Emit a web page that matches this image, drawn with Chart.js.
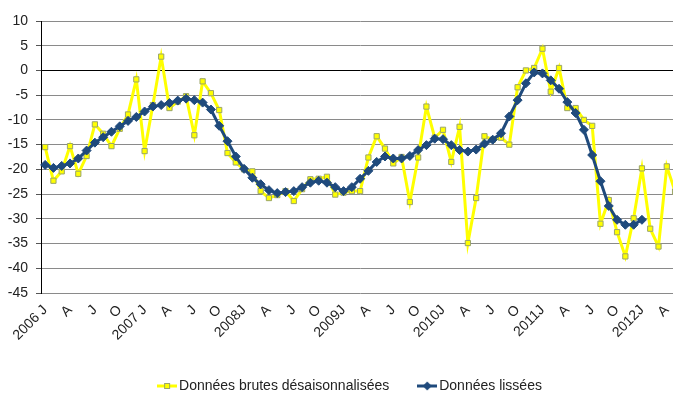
<!DOCTYPE html>
<html>
<head>
<meta charset="utf-8">
<script src="https://cdn.jsdelivr.net/npm/chart.js@4/dist/chart.umd.min.js"></script>
<style>
  html, body { margin: 0; padding: 0; background: #fff; overflow: hidden; }
  #wrap { width: 688px; height: 400px; }
</style>
</head>
<body>
<div id="wrap"><canvas id="chart"></canvas></div>
<script>
// one label every quarter, starting January 2006
const quarterLabels = [
  "2006 J", "A", "J", "O",
  "2007 J", "A", "J", "O",
  "2008J", "A", "J", "O",
  "2009J", "A", "J", "O",
  "2010J", "A", "J", "O",
  "2011J", "A", "J", "O",
  "2012J", "A"
];

// monthly categories, 2006-01 .. 2012-05
const months = [];
for (let y = 2006; y <= 2012; y++) {
  for (let m = 1; m <= 12; m++) {
    if (y === 2012 && m > 5) break;
    months.push(y + "-" + String(m).padStart(2, "0"));
  }
}

const rawValues = [
  -15.5, -22.3, -20.4, -15.3, -20.9, -17.3, -10.9, -12.8, -15.3, -11.8, -8.9, -1.8,
  -16.3, -7.0, 2.8, -7.6, -6.3, -5.2, -13.1, -2.2, -4.6, -8.0, -16.7, -18.6,
  -20.0, -20.4, -24.4, -25.8, -25.2, -24.4, -26.4, -24.0, -22.0, -21.9, -21.5, -25.1,
  -24.7, -24.4, -24.4, -17.6, -13.3, -15.8, -18.8, -17.5, -26.6, -17.6, -7.3, -13.6,
  -12.0, -18.5, -11.4, -34.9, -25.8, -13.3, -14.0, -13.6, -15.0, -3.4, 0.0, 0.5,
  4.4, -4.3, 0.5, -7.6, -7.6, -10.0, -11.2, -31.0, -26.2, -32.7, -37.6, -29.9,
  -19.8, -32.0, -35.6, -19.4, -24.5
];

const smoothValues = [
  -19.1, -19.7, -19.3, -18.8, -17.8, -16.2, -14.6, -13.5, -12.4, -11.3, -10.2, -9.4,
  -8.3, -7.3, -7.0, -6.6, -6.1, -5.7, -6.0, -6.5, -7.9, -11.2, -14.3, -17.4,
  -19.9, -21.7, -23.0, -24.2, -24.8, -24.6, -24.4, -23.6, -22.7, -22.3, -22.7, -23.6,
  -24.4, -23.6, -21.9, -20.3, -18.5, -17.4, -17.8, -17.8, -17.3, -16.1, -15.1, -13.8,
  -13.9, -15.1, -16.1, -16.4, -16.0, -14.8, -14.0, -12.7, -9.3, -6.0, -2.6, -0.4,
  -0.6, -2.0, -3.7, -6.4, -8.6, -12.0, -17.1, -22.4, -27.4, -30.2, -31.2, -31.2,
  -30.2
];

const YELLOW = "#ffff00";
const BLUE = "#1f4a7c";

// little line + marker picture for the legend
function legendIcon(color, style, fill, border) {
  const c = document.createElement("canvas");
  c.width = 20;
  c.height = 10;
  const g = c.getContext("2d");
  g.strokeStyle = color;
  g.lineWidth = 3;
  g.beginPath();
  g.moveTo(0, 5);
  g.lineTo(20, 5);
  g.stroke();
  g.fillStyle = fill;
  g.strokeStyle = border;
  g.lineWidth = 1;
  if (style === "rect") {
    g.fillRect(7.5, 2.5, 5, 5);
    g.strokeRect(7.5, 2.5, 5, 5);
  } else {
    g.beginPath();
    g.moveTo(10, 0.5);
    g.lineTo(14.5, 5);
    g.lineTo(10, 9.5);
    g.lineTo(5.5, 5);
    g.closePath();
    g.fill();
  }
  return c;
}

const iconRaw = legendIcon(YELLOW, "rect", YELLOW, "#9aa56a");
const iconSmooth = legendIcon(BLUE, "diamond", BLUE, BLUE);

// nudge the legend a bit to the right, like the original
const legendShift = {
  id: "legendShift",
  afterLayout(chart) {
    if (!chart.legend) return;
    chart.legend.left += 8;
    chart.legend.right += 8;
  },
};

const chart = new Chart(document.getElementById("chart"), {
  type: "line",
  plugins: [legendShift],
  data: {
    labels: months,
    datasets: [
      {
        label: "Données brutes désaisonnalisées",
        data: rawValues,
        borderColor: YELLOW,
        borderWidth: 3,
        pointStyle: "rect",
        pointRadius: 3.7,
        pointBackgroundColor: YELLOW,
        pointBorderColor: "#9aa56a",
        pointBorderWidth: 1,
        tension: 0,
        order: 1,
      },
      {
        label: "Données lissées",
        data: smoothValues,
        borderColor: BLUE,
        borderWidth: 3,
        pointStyle: "rectRot",
        pointRadius: 4.5,
        pointBackgroundColor: BLUE,
        pointBorderColor: BLUE,
        pointBorderWidth: 1,
        tension: 0,
        order: 0,
      },
    ],
  },
  options: {
    responsive: true,
    maintainAspectRatio: false,
    animation: false,
    layout: { padding: { top: 21, right: 0, bottom: -3, left: 0 } },
    plugins: {
      tooltip: { enabled: false },
      legend: {
        position: "bottom",
        labels: {
          color: "#222",
          font: { family: "Liberation Sans", size: 14 },
          usePointStyle: true,
          pointStyleWidth: 10,
          padding: 33,
          sort: (a, b) => a.datasetIndex - b.datasetIndex,
          generateLabels: (chart) => chart.data.datasets.map((ds, i) => ({
            text: ds.label,
            datasetIndex: i,
            pointStyle: i === 0 ? iconRaw : iconSmooth,
            fillStyle: "transparent",
            strokeStyle: "transparent",
            lineWidth: 0,
            fontColor: "#222",
          })),
        },
      },
    },
    scales: {
      x: {
        offset: true,
        grid: { display: false },
        border: { display: false },
        ticks: {
          autoSkip: false,
          minRotation: 45,
          maxRotation: 45,
          color: "#222",
          padding: 1,
          font: { family: "Liberation Sans", size: 14 },
          callback: (v, i) => (i % 3 === 0 ? quarterLabels[i / 3] : ""),
        },
        afterFit: (s) => { s.height = 53; },
      },
      y: {
        min: -45,
        max: 10,
        grid: {
          color: (ctx) => (ctx.tick && ctx.tick.value === 0 ? "#000" : "#8a8a8a"),
          lineWidth: 1,
          tickLength: 5,
          tickColor: "#555",
        },
        border: { color: "#000", width: 1 },
        ticks: {
          stepSize: 5,
          color: "#222",
          padding: 8,
          font: { family: "Liberation Sans", size: 14 },
        },
        afterFit: (s) => { s.width = 41; },
      },
    },
  },
});
</script>
</body>
</html>
